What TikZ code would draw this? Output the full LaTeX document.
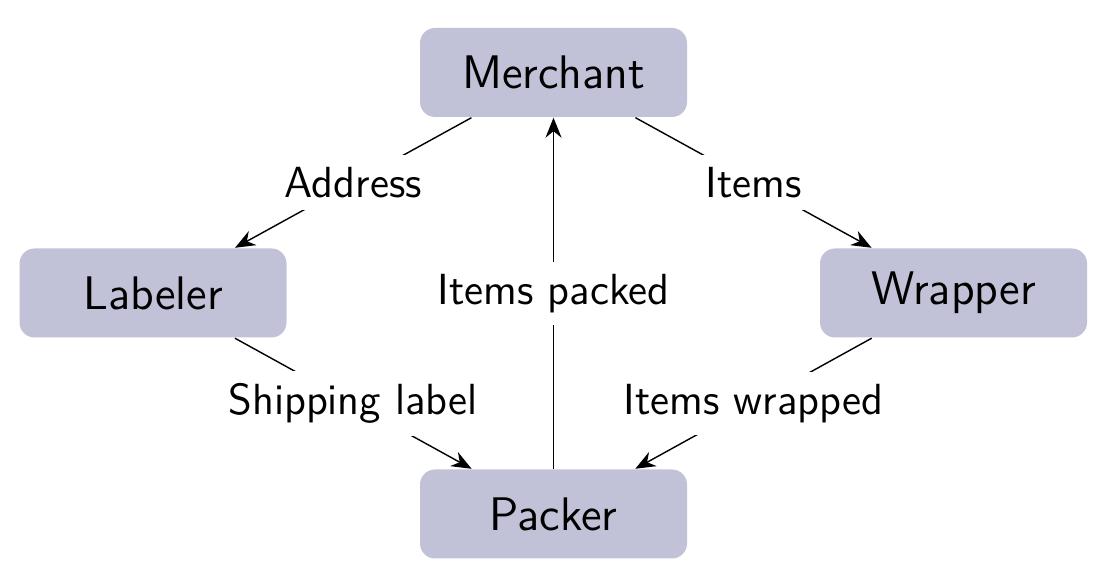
\documentclass[tikz,border=0pt]{standalone}
\usetikzlibrary{arrows.meta}
\definecolor{boxgray}{RGB}{193,193,215}
\tikzset{
	box/.style={fill=boxgray, rounded corners=0.15cm, minimum width=2.67cm, minimum height=0.89cm, font=\sffamily\fontsize{13.4}{16}\selectfont},
	flow/.style={-{Stealth[length=0.2cm,width=0.16cm]}},
	lbl/.style={fill=white, inner sep=0.12cm, font=\sffamily\fontsize{12.4}{15}\selectfont}
}
\begin{document}
\begin{tikzpicture}
	\useasboundingbox (0,0) rectangle (11.04,5.73);
	\node[box] (merchant) at (5.535,5.005) {Merchant};
	\node[box] (labeler) at (1.53,2.8) {Labeler};
	\node[box] (wrapper) at (9.535,2.8) {Wrapper};
	\node[box] (packer) at (5.535,0.59) {Packer};
	\draw[flow] (merchant) -- (labeler) node[midway,lbl]{Address};
	\draw[flow] (merchant) -- (wrapper) node[midway,lbl]{Items};
	\draw[flow] (labeler) -- (packer) node[midway,lbl]{Shipping label};
	\draw[flow] (wrapper) -- (packer) node[midway,lbl]{Items wrapped};
	\draw[flow] (packer) -- (merchant) node[midway,lbl]{Items packed};
\end{tikzpicture}
\end{document}
